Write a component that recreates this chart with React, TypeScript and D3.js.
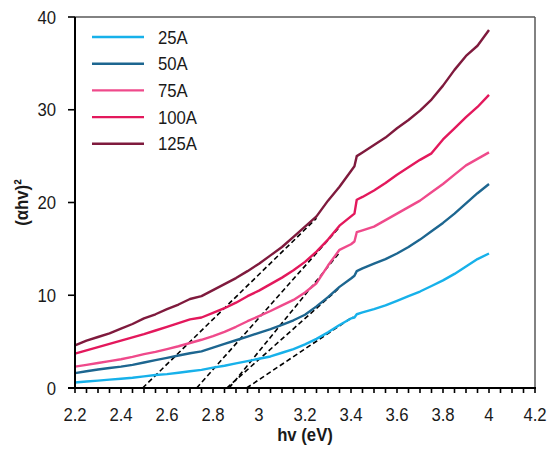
import React from "react";
import * as d3 from "d3";

const hv = [2.2, 2.25, 2.3, 2.35, 2.4, 2.45, 2.5, 2.55, 2.6, 2.65, 2.7, 2.75, 2.8, 2.85, 2.9, 2.95, 3.0, 3.05, 3.1, 3.15, 3.2, 3.25, 3.3, 3.35, 3.4, 3.415, 3.425, 3.45, 3.5, 3.55, 3.6, 3.65, 3.7, 3.75, 3.8, 3.85, 3.9, 3.95, 4.0];

const s25 = [0.6, 0.7, 0.8, 0.9, 1.0, 1.1, 1.25, 1.4, 1.5, 1.65, 1.8, 1.95, 2.2, 2.4, 2.65, 2.9, 3.15, 3.4, 3.8, 4.2, 4.7, 5.3, 6.0, 6.8, 7.5, 7.6, 7.95, 8.15, 8.5, 8.9, 9.4, 9.9, 10.4, 11.0, 11.6, 12.3, 13.1, 13.9, 14.5];
const s50 = [1.6, 1.8, 2.0, 2.15, 2.3, 2.5, 2.75, 3.0, 3.25, 3.5, 3.75, 3.95, 4.35, 4.75, 5.15, 5.55, 5.95, 6.35, 6.8, 7.3, 7.9, 8.8, 9.8, 10.9, 11.8, 12.1, 12.6, 12.9, 13.4, 13.9, 14.5, 15.2, 16.0, 16.9, 17.8, 18.8, 19.9, 21.0, 22.0];
const s75 = [2.3, 2.5, 2.7, 2.9, 3.1, 3.35, 3.65, 3.9, 4.2, 4.5, 4.85, 5.2, 5.6, 6.05, 6.6, 7.2, 7.75, 8.3, 8.9, 9.5, 10.3, 11.3, 13.2, 14.9, 15.5, 15.8, 16.8, 17.0, 17.4, 18.1, 18.8, 19.5, 20.2, 21.1, 22.0, 23.0, 24.0, 24.7, 25.4];
const s100 = [3.7, 4.05, 4.4, 4.75, 5.1, 5.45, 5.8, 6.2, 6.6, 7.0, 7.4, 7.6, 8.1, 8.6, 9.2, 9.9, 10.5, 11.2, 11.9, 12.7, 13.6, 14.7, 16.0, 17.5, 18.5, 18.8, 20.3, 20.6, 21.3, 22.1, 23.0, 23.8, 24.6, 25.3, 26.8, 28.0, 29.2, 30.3, 31.6];
const s125 = [4.6, 5.1, 5.5, 5.9, 6.4, 6.9, 7.5, 7.95, 8.5, 9.0, 9.6, 9.9, 10.55, 11.2, 11.85, 12.6, 13.4, 14.3, 15.2, 16.3, 17.4, 18.5, 20.2, 21.7, 23.4, 23.9, 25.0, 25.4, 26.2, 27.0, 28.0, 28.9, 29.9, 31.1, 32.6, 34.3, 35.8, 36.9, 38.6];

const seriesNames = ["25A", "50A", "75A", "100A", "125A"];
const seriesValues = [s25, s50, s75, s100, s125];
const seriesColors = ["#17b1ea", "#1d6690", "#ef4a8b", "#e3185c", "#7f1a3d"];

// Tauc extrapolation lines: x-intercept and upper end
const fitX0 = [2.946, 2.86, 2.87, 2.729, 2.494];
const fitX1 = [3.41, 3.35, 3.35, 3.352, 3.25];
const fitY1 = [7.7, 10.8, 14.6, 17.4, 18.3];

const xTicks = [2.2, 2.4, 2.6, 2.8, 3, 3.2, 3.4, 3.6, 3.8, 4, 4.2];
const yTicks = [0, 10, 20, 30, 40];

const W = 548, H = 454;
const L = 75, R = 535, T = 17, B = 388;
const SX = 0.88;

export default function App() {
  const x = d3.scaleLinear().domain([2.2, 4.2]).range([L, R]);
  const y = d3.scaleLinear().domain([0, 40]).range([B, T]);
  const line = d3.line<number>().x((_, i) => x(hv[i])).y((d) => y(d));
  const minor = d3.range(0, 41).map((i) => 2.2 + i * 0.05);
  const font = "'Liberation Sans', Arial, sans-serif";

  return (
    <svg width={W} height={H} style={{ position: "absolute", left: 0, top: 0, background: "#fff" }}>
      <rect x={0} y={0} width={W} height={H} fill="#fff" />
      {/* plot frame */}
      <line x1={L} x2={R} y1={T} y2={T} stroke="#595959" strokeWidth={1.5} />
      <line x1={R} x2={R} y1={T} y2={B} stroke="#595959" strokeWidth={1.5} />

      {/* fit lines */}
      {fitX0.map((x0, i) => (
        <line key={"f" + i} x1={x(x0)} y1={y(0)} x2={x(fitX1[i])} y2={y(fitY1[i])}
          stroke="#000" strokeWidth={1.6} strokeDasharray="5,3" />
      ))}

      {/* series */}
      {seriesValues.map((vals, i) => (
        <path key={"s" + i} d={line(vals) || ""} fill="none" stroke={seriesColors[i]}
          strokeWidth={2.4} strokeLinejoin="round" />
      ))}

      {/* axes */}
      <line x1={L} x2={L} y1={T} y2={B + 1} stroke="#000" strokeWidth={2} />
      <line x1={L - 7} x2={R + 1} y1={B} y2={B} stroke="#000" strokeWidth={2} />
      {minor.map((v, i) => (
        <line key={"mt" + i} x1={x(v)} x2={x(v)} y1={B} y2={B + 5} stroke="#000" strokeWidth={1.6} />
      ))}
      {yTicks.map((v) => (
        <line key={"yt" + v} x1={L - 7} x2={L} y1={y(v)} y2={y(v)} stroke="#000" strokeWidth={1.6} />
      ))}
      {xTicks.map((v) => (
        <text key={"xl" + v} transform={`translate(${x(v)},421) scale(${SX},1)`} textAnchor="middle" fontFamily={font} fontSize={19} fill="#1a1a1a">
          {d3.format("~g")(v)}
        </text>
      ))}
      {yTicks.map((v) => (
        <text key={"yl" + v} transform={`translate(56,${y(v)}) scale(${SX},1)`} dy="0.35em" textAnchor="end" fontFamily={font} fontSize={19} fill="#1a1a1a">
          {v}
        </text>
      ))}
      <text transform={`translate(${(L + R) / 2},441) scale(${SX},1)`} textAnchor="middle" fontFamily={font} fontSize={19} fontWeight="bold" fill="#1a1a1a">
        hv (eV)
      </text>
      <text transform={`translate(28,${(T + B) / 2}) rotate(-90) scale(${SX},1)`} textAnchor="middle" fontFamily={font} fontSize={19} fontWeight="bold" fill="#1a1a1a">
        (αhv)²
      </text>

      {/* legend */}
      {seriesNames.map((n, i) => (
        <g key={"lg" + i} transform={`translate(0,${37 + i * 26.7})`}>
          <line x1={92} x2={144} y1={0} y2={0} stroke={seriesColors[i]} strokeWidth={2.4} />
          <text transform={`translate(158,0) scale(${SX},1)`} dy="0.35em" fontFamily={font} fontSize={19} fill="#1a1a1a">{n}</text>
        </g>
      ))}
    </svg>
  );
}
